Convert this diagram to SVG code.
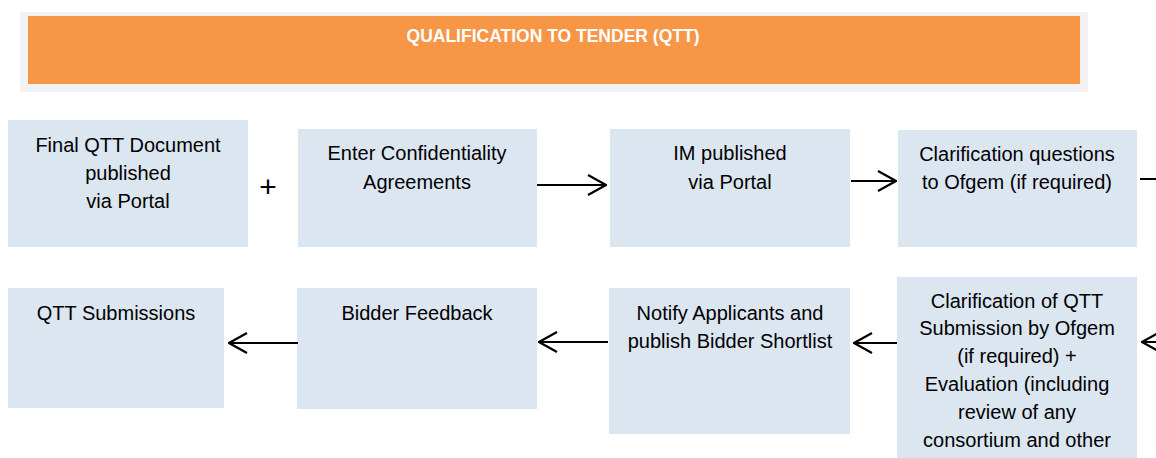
<svg xmlns="http://www.w3.org/2000/svg" width="1156" height="458" viewBox="0 0 1156 458">
<style>
.box{fill:#dce6f1}
.t{font-family:"Liberation Sans",Arial,sans-serif;font-size:20px;fill:#000;text-anchor:middle}
.h{font-family:"Liberation Sans",Arial,sans-serif;font-size:17.5px;font-weight:bold;fill:#fff;text-anchor:middle}
.c{stroke:#000;stroke-width:2;fill:none}
</style>
<defs>
<marker id="ah" viewBox="0 0 20 22" refX="19" refY="11" markerWidth="20" markerHeight="22" markerUnits="userSpaceOnUse" orient="auto">
<path d="M1,1 L19,11 L1,21" fill="none" stroke="#000" stroke-width="2.2"/>
</marker>
</defs>
<rect x="0" y="0" width="1156" height="458" fill="#fff"/>
<g id="header">
<rect x="20" y="12" width="1068" height="80" fill="#f2f2f2"/>
<rect x="28" y="16" width="1052" height="68" fill="#f79646"/>
<text class="h" x="553" y="42">QUALIFICATION TO TENDER (QTT)</text>
</g>
<g id="n1"><rect class="box" x="8" y="120" width="240" height="127"/>
<text class="t" x="128" y="152">Final QTT Document</text><text class="t" x="128" y="180">published</text><text class="t" x="128" y="208">via Portal</text></g>
<g id="plus"><text class="t" x="268" y="197" style="font-size:30px;font-weight:300">+</text></g>
<g id="n2"><rect class="box" x="298" y="129" width="239" height="118"/>
<text class="t" x="417" y="160">Enter Confidentiality</text><text class="t" x="417" y="189">Agreements</text></g>
<g id="n3"><rect class="box" x="610" y="129" width="240" height="118"/>
<text class="t" x="730" y="160">IM published</text><text class="t" x="730" y="189">via Portal</text></g>
<g id="n4"><rect class="box" x="898" y="130" width="239" height="117"/>
<text class="t" x="1017" y="161">Clarification questions</text><text class="t" x="1017" y="189">to Ofgem (if required)</text></g>
<g id="n5"><rect class="box" x="8" y="288" width="216" height="120"/>
<text class="t" x="116" y="320">QTT Submissions</text></g>
<g id="n6"><rect class="box" x="297" y="288" width="240" height="121"/>
<text class="t" x="417" y="320">Bidder Feedback</text></g>
<g id="n7"><rect class="box" x="609" y="288" width="241" height="146"/>
<text class="t" x="730" y="320">Notify Applicants and</text><text class="t" x="730" y="348">publish Bidder Shortlist</text></g>
<g id="n8"><rect class="box" x="897" y="277" width="240" height="181"/>
<text class="t" x="1017" y="308">Clarification of QTT</text><text class="t" x="1017" y="335">Submission by Ofgem</text><text class="t" x="1017" y="363">(if required) +</text><text class="t" x="1017" y="391">Evaluation (including</text><text class="t" x="1017" y="419">review of any</text><text class="t" x="1017" y="447">consortium and other</text></g>
<g id="connectors">
<line class="c" x1="537" y1="185" x2="606" y2="185" marker-end="url(#ah)"/>
<line class="c" x1="851" y1="181" x2="896" y2="181" marker-end="url(#ah)"/>
<line class="c" x1="1140" y1="179" x2="1156" y2="179"/>
<line class="c" x1="1156" y1="342" x2="1142" y2="342" marker-end="url(#ah)"/>
<line class="c" x1="897" y1="343" x2="854" y2="343" marker-end="url(#ah)"/>
<line class="c" x1="608" y1="342" x2="539" y2="342" marker-end="url(#ah)"/>
<line class="c" x1="298" y1="343" x2="229" y2="343" marker-end="url(#ah)"/>
</g>
</svg>
